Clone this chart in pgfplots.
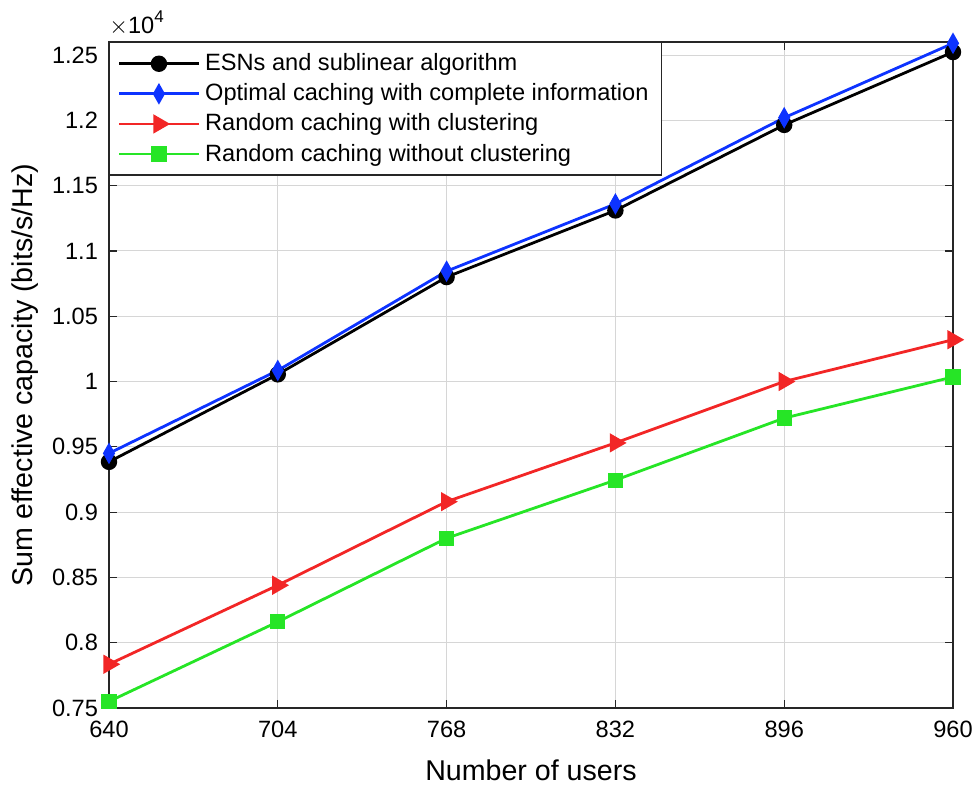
\documentclass[border=0pt]{standalone}
\usepackage{pgfplots}
\pgfplotsset{compat=1.18}
\usepackage{fontspec}
\setmainfont{Liberation Sans}
\definecolor{mblue}{rgb}{0.05,0.2,1}
\definecolor{mred}{rgb}{0.95,0.15,0.15}
\definecolor{mgreen}{rgb}{0.15,0.9,0.15}
\begin{document}
\begin{tikzpicture}
\begin{axis}[
  scale only axis,
  width=422pt, height=333pt,
  xmin=640, xmax=960, ymin=7500, ymax=12600,
  xtick={640,704,768,832,896,960},
  ytick={7500,8000,8500,9000,9500,10000,10500,11000,11500,12000,12500},
  yticklabels={0.75,0.8,0.85,0.9,0.95,1,1.05,1.1,1.15,1.2,1.25},
  scaled ticks=false,
  /pgf/number format/assume math mode=true,
  xticklabel style={font=\fontsize{11.8}{13}\selectfont, yshift=-3pt},
  yticklabel style={font=\fontsize{11.8}{13}\selectfont, xshift=-2pt},
  tick align=inside,
  major tick length=4pt,
  axis line style={draw=black!85, line width=0.7pt},
  every tick/.style={black!85, line width=0.6pt},
  grid=major,
  major grid style={draw=black!16, line width=0.5pt},
  xlabel={Number of users},
  ylabel={Sum effective capacity (bits/s/Hz)},
  label style={font=\fontsize{14.3}{16}\selectfont},
  xlabel style={at={(axis description cs:0.5,-0.093)}, anchor=center},
  ylabel style={at={(axis description cs:-0.0995,0.5)}, anchor=center, rotate=0},
  legend style={at={(axis description cs:0,1)}, anchor=north west, draw=black!85, line width=0.7pt,
    font=\fontsize{11.8}{13}\selectfont, legend cell align=left, inner xsep=4pt, inner ysep=3pt,
    nodes={inner sep=2.5pt}},
  legend image code/.code={%
    \draw[mark repeat=2, mark phase=2] plot coordinates {(0cm,0cm) (0.7cm,0cm) (1.4cm,0cm)};},
  clip=false,
]
\addplot[black, line width=1.4pt, mark=*, mark size=3.4pt] coordinates {
 (640,9385) (704,10055) (768,10800) (832,11310) (896,11965) (960,12523)};
\addlegendentry{ESNs and sublinear algorithm}
\addplot[mblue, line width=1.4pt, mark=diamond*, mark size=4pt, mark options={xscale=0.75}] coordinates {
 (640,9450) (704,10085) (768,10845) (832,11360) (896,12020) (960,12590)};
\addlegendentry{Optimal caching with complete information}
\addplot[mred, line width=1.4pt, mark=triangle*, mark size=4.2pt, mark options={rotate=-90}] coordinates {
 (640,7835) (704,8440) (768,9080) (832,9530) (896,10000) (960,10320)};
\addlegendentry{Random caching with clustering}
\addplot[mgreen, line width=1.4pt, mark=square*, mark size=3.1pt] coordinates {
 (640,7550) (704,8160) (768,8800) (832,9245) (896,9720) (960,10035)};
\addlegendentry{Random caching without clustering}
\end{axis}
\node[anchor=south west, font=\fontsize{11.8}{13}\selectfont, inner sep=0pt] at ([yshift=3pt]current axis.north west) {$\times$10\raisebox{0.9ex}{\fontsize{8.5}{9}\selectfont 4}};
\pgfresetboundingbox
\path ([shift={(-54.5pt,-39pt)}]current axis.south west) rectangle ([shift={(12.5pt,21pt)}]current axis.north east);
\end{tikzpicture}
\end{document}
